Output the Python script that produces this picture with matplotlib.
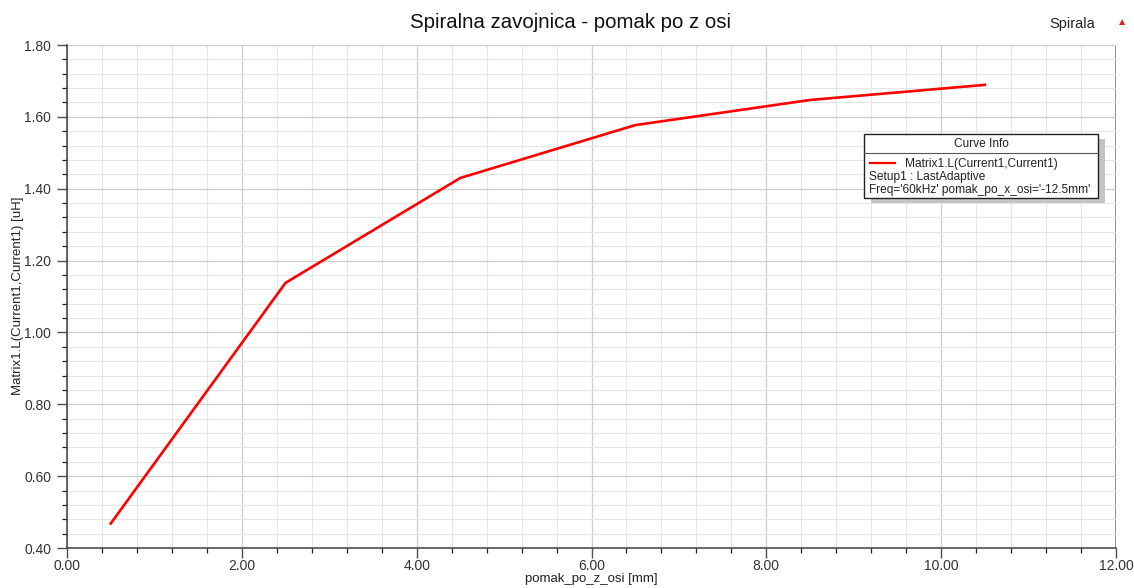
import matplotlib
matplotlib.use('Agg')
from matplotlib import pyplot as plt
from matplotlib.patches import Rectangle
from matplotlib.ticker import MultipleLocator

plt.rcParams['font.family'] = ['Liberation Sans', 'DejaVu Sans']

# data
pomak_z = [0.5, 2.5, 4.5, 6.5, 8.5, 10.5]
induct = [0.468, 1.138, 1.430, 1.577, 1.647, 1.689]

title = 'Spiralna zavojnica - pomak po z osi'
x_label = 'pomak_po_z_osi [mm]'
y_label = 'Matrix1.L(Current1,Current1) [uH]'
legend_lines = ['Matrix1.L(Current1,Current1)', 'Setup1 : LastAdaptive',
                "Freq='60kHz' pomak_po_x_osi='-12.5mm'"]

W, H = 1134, 588


def fx(px):
    return px / W


def fy(py):
    return 1 - py / H


def main():
    fig = plt.figure(figsize=(W / 100, H / 100), dpi=100)
    ax = fig.add_axes([fx(67), fy(548), 1049 / W, 503 / H])

    ax.plot(pomak_z, induct, color='#ff0000', lw=1.9, zorder=3)

    ax.set_xlim(0, 12)
    ax.set_ylim(0.4, 1.8)
    ax.xaxis.set_major_locator(MultipleLocator(2))
    ax.xaxis.set_minor_locator(MultipleLocator(0.4))
    ax.yaxis.set_major_locator(MultipleLocator(0.2))
    ax.yaxis.set_minor_locator(MultipleLocator(0.04))
    ax.xaxis.set_major_formatter(lambda v, p: f'{v:.2f}')
    ax.yaxis.set_major_formatter(lambda v, p: f'{v:.2f}')

    ax.grid(which='major', color='#cdcdcd', lw=0.9, zorder=0)
    ax.grid(which='minor', color='#e6e6e6', lw=0.8, zorder=0)
    ax.tick_params(which='major', direction='out', length=7.2, width=1.0,
                   color='#505050', labelsize=10, labelcolor='#333333')
    ax.tick_params(axis='y', which='major', pad=4.3)
    ax.tick_params(axis='x', which='major', pad=0.8)
    ax.tick_params(which='minor', direction='out', length=3.6, width=0.9, color='#202020')
    for side in ['top', 'right']:
        ax.spines[side].set_visible(False)
    for side in ['left', 'bottom']:
        ax.spines[side].set_color('#404040')
        ax.spines[side].set_linewidth(1.1)
    ax.axvline(12, color='#808080', lw=1.3, zorder=1)
    ax.axhline(1.8, color='#303030', lw=1.1, zorder=1)

    fig.text(fx(570), fy(22), title, ha='center', va='center',
             fontsize=14.7, color='#111111')
    fig.text(fx(1072), fy(24), 'Spirala', ha='center', va='center',
             fontsize=10.5, color='#222222')
    fig.text(fx(1122), fy(22), '\u25b2', ha='center', va='center',
             fontsize=7.5, color='#d42020')

    fig.text(fx(591), fy(579), x_label, ha='center', va='center',
             fontsize=9.5, color='#222222')
    fig.text(fx(18), fy(296), y_label, ha='center', va='center', rotation=90,
             fontsize=9.5, color='#222222')

    # curve info box
    x0, y0, w, h = 864, 134, 234, 64
    shadow = Rectangle((fx(x0 + 7), fy(y0 + h + 5)), w / W, h / H,
                       transform=fig.transFigure, facecolor='#c4c4c4',
                       edgecolor='none', zorder=5)
    box = Rectangle((fx(x0), fy(y0 + h)), w / W, h / H,
                    transform=fig.transFigure, facecolor='white',
                    edgecolor='#222222', lw=1.0, zorder=6)
    fig.add_artist(shadow)
    fig.add_artist(box)
    fig.add_artist(plt.Line2D([fx(x0), fx(x0 + w)], [fy(153), fy(153)],
                              color='#555555', lw=0.8, zorder=7))
    fig.text(fx(x0 + w / 2), fy(144), 'Curve Info', ha='center',
             va='center', fontsize=8.6, color='#222222', zorder=8)
    fig.add_artist(plt.Line2D([fx(870), fx(895)], [fy(163), fy(163)],
                              color='#ff0000', lw=1.6, zorder=8))
    fig.text(fx(905), fy(164), legend_lines[0], ha='left', va='center',
             fontsize=8.6, color='#222222', zorder=8)
    fig.text(fx(869), fy(177), legend_lines[1], ha='left', va='center',
             fontsize=8.6, color='#222222', zorder=8)
    fig.text(fx(869), fy(190), legend_lines[2], ha='left', va='center',
             fontsize=8.6, color='#222222', zorder=8)

    fig.savefig('out.png', dpi=100)


if __name__ == '__main__':
    main()
